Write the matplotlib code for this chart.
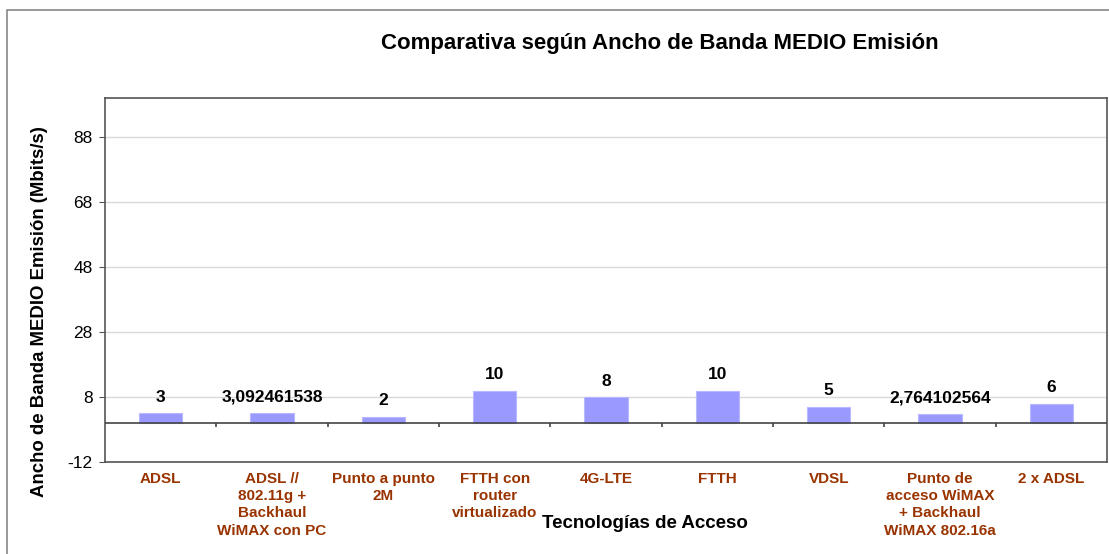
import matplotlib
matplotlib.use("Agg")
import matplotlib.pyplot as plt
from matplotlib.patches import Rectangle

categories = ["ADSL", "ADSL //\n802.11g +\nBackhaul\nWiMAX con PC", "Punto a punto\n2M",
              "FTTH con\nrouter\nvirtualizado", "4G-LTE", "FTTH", "VDSL",
              "Punto de\nacceso WiMAX\n+ Backhaul\nWiMAX 802.16a", "2 x ADSL"]
values = [3, 3.092461538, 2, 10, 8, 10, 5, 2.764102564, 6]
yticks = [-12, 8, 28, 48, 68, 88]

title = "Comparativa según Ancho de Banda MEDIO Emisión"
ylabel = "Ancho de Banda MEDIO Emisión (Mbits/s)"
xlabel = "Tecnologías de Acceso"

plt.rcParams['font.family'] = ['Liberation Sans', 'DejaVu Sans']

fig = plt.figure(figsize=(11.09, 5.54), dpi=100)
fig.patch.set_facecolor('white')
fig.patches.append(Rectangle((6.5/1109, -0.05), 1.05, 1.05 - 10/554, transform=fig.transFigure,
                             fill=False, edgecolor='#888888', linewidth=1.2))

ax = fig.add_axes([105/1109, 1-462/554, (1107-105)/1109, (462-98)/554])
x = list(range(len(categories)))
ax.bar(x, values, width=0.39, color='#9999FF', edgecolor='#B8B8FF', linewidth=0.8, zorder=3)

ax.set_xlim(-0.5, len(categories) - 0.5)
ax.set_ylim(-12, 100)
ax.set_yticks(yticks)
ax.set_yticklabels([str(t) for t in yticks], fontsize=12.5)
ax.yaxis.grid(True, color='#D9D9D9', linewidth=1)
ax.set_axisbelow(True)
ax.tick_params(axis='y', direction='out', length=4, color='#555555', pad=5)

ax.set_xticks(x)
ax.set_xticklabels(categories, fontsize=11, fontweight='bold', color='#993300', linespacing=1.3)
ax.tick_params(axis='x', length=0, pad=7)
for lab in ax.get_xticklabels():
    lab.set_verticalalignment('top')

for s in ax.spines.values():
    s.set_color('#555555')
    s.set_linewidth(1.2)

ax.axhline(0, color='#444444', linewidth=1.2, zorder=4)
for b in range(1, len(categories)):
    ax.vlines(b - 0.5, -1.3, 0, color='#444444', linewidth=1.2, zorder=4)

for xi, v in zip(x, values):
    lbl = f"{v:.10g}".replace('.', ',')
    ax.annotate(lbl, (xi, v), xytext=(0, 6), textcoords='offset points',
                ha='center', va='bottom', fontsize=12.5, fontweight='bold', color='black')

fig.text(660/1109, 1-43/554, title, ha='center', va='center', fontsize=16, fontweight='bold')
fig.text(40/1109, 1-312/554, ylabel, ha='center', va='center', rotation=90, fontsize=13.4, fontweight='bold')
fig.text(645/1109, 1-523/554, xlabel, ha='center', va='center', fontsize=13.5, fontweight='bold')

fig.savefig("out.png", dpi=100)
